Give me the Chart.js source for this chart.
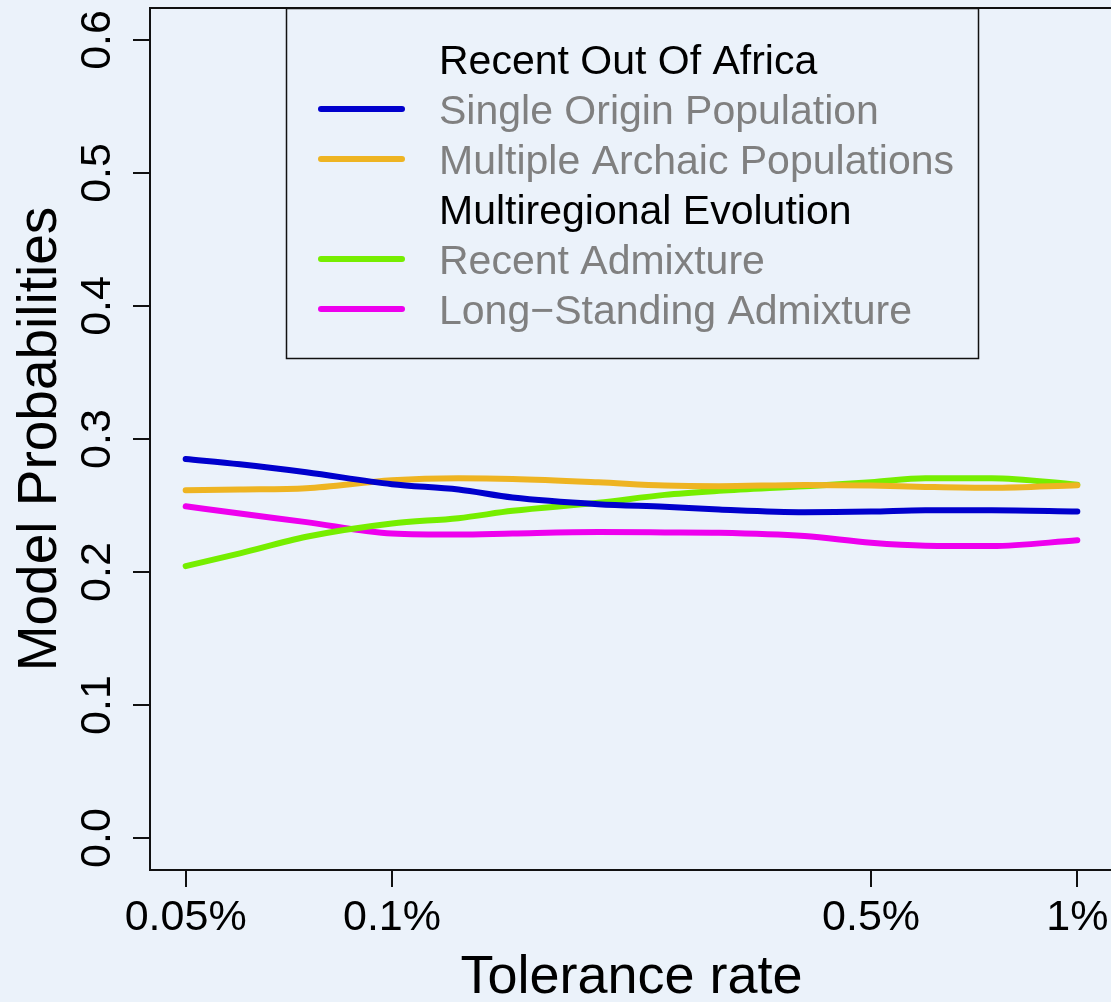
<!DOCTYPE html>
<html>
<head>
<meta charset="utf-8">
<title>Model Probabilities by Tolerance rate</title>
<script src="https://cdn.jsdelivr.net/npm/chart.js@4.4.1/dist/chart.umd.min.js"></script>
<style>
  html, body { margin: 0; padding: 0; background: #EBF2FA; overflow: hidden; width: 1111px; height: 1002px; }
  canvas { display: block; }
</style>
</head>
<body>
<canvas id="chart" width="1120" height="1002"></canvas>
<script>
// Tolerance rate (%) at which the model probabilities were estimated
const tolerance = [0.05, 0.06, 0.075, 0.1, 0.125, 0.15, 0.2, 0.25, 0.3, 0.4, 0.5, 0.6, 0.75, 1];

// Posterior model probabilities per scenario
const singleOrigin      = [0.285, 0.281, 0.275, 0.266, 0.262, 0.256, 0.251, 0.249, 0.247, 0.245, 0.2455, 0.2465, 0.2465, 0.2455];
const multipleArchaic   = [0.2615, 0.262, 0.263, 0.269, 0.2705, 0.270, 0.2675, 0.265, 0.2645, 0.2655, 0.265, 0.264, 0.2633, 0.2652];
const recentAdmixture   = [0.2044, 0.214, 0.2265, 0.2365, 0.2405, 0.246, 0.252, 0.258, 0.261, 0.2645, 0.2675, 0.2705, 0.2705, 0.2657];
const longStanding      = [0.2494, 0.244, 0.2375, 0.229, 0.2282, 0.229, 0.230, 0.2298, 0.2295, 0.227, 0.222, 0.2198, 0.2195, 0.2239];

const seriesNames  = ['Single Origin Population', 'Multiple Archaic Populations', 'Recent Admixture', 'Long\u2212Standing Admixture'];
const seriesColors = ['#0000CD', '#EEB422', '#76EE00', '#EE00EE'];
const groupNames   = ['Recent Out Of Africa', 'Multiregional Evolution'];

// Axis ticks
const xTicks      = [0.05, 0.1, 0.5, 1];
const xTickLabels = ['0.05%', '0.1%', '0.5%', '1%'];
const yTicks      = [0, 0.1, 0.2, 0.3, 0.4, 0.5, 0.6];
const yTickLabels = ['0.0', '0.1', '0.2', '0.3', '0.4', '0.5', '0.6'];

const FONT = '"Liberation Sans", Arial, Helvetica, sans-serif';

// 4% padding around the data range on both axes
const logMin = Math.log10(xTicks[0]), logMax = Math.log10(xTicks[xTicks.length - 1]);
const logPad = 0.04 * (logMax - logMin);
const yPad = 0.04 * (yTicks[yTicks.length - 1] - yTicks[0]);

const seriesValues = [singleOrigin, multipleArchaic, recentAdmixture, longStanding];
const datasets = seriesValues.map((vals, i) => ({
  label: seriesNames[i],
  data: tolerance.map((t, j) => ({ x: t, y: vals[j] })),
  borderColor: seriesColors[i],
  backgroundColor: seriesColors[i],
  borderWidth: 6,
  borderCapStyle: 'round',
  borderJoinStyle: 'round',
  pointRadius: 0,
  cubicInterpolationMode: 'monotone',
  fill: false
}));

// Frame, rotated y tick labels and the grouped legend
const decorations = {
  id: 'decorations',
  afterDraw(chart) {
    const { ctx, chartArea: a, scales: { y } } = chart;
    ctx.save();

    ctx.strokeStyle = '#111';
    ctx.lineWidth = 2;
    ctx.strokeRect(a.left, a.top, a.right - a.left, a.bottom - a.top);

    ctx.fillStyle = '#000';
    ctx.font = '43px ' + FONT;
    ctx.textAlign = 'center';
    ctx.textBaseline = 'alphabetic';
    yTicks.forEach((v, i) => {
      ctx.save();
      ctx.translate(a.left - 40, y.getPixelForValue(v));
      ctx.rotate(-Math.PI / 2);
      ctx.fillText(yTickLabels[i], 0, 0);
      ctx.restore();
    });

    // legend box
    const bx = a.left + 136, by = a.top, bw = 692, bh = 350;
    ctx.fillStyle = '#EBF2FA';
    ctx.fillRect(bx, by, bw, bh);
    ctx.lineWidth = 1.5;
    ctx.strokeStyle = '#111';
    ctx.strokeRect(bx + 0.5, by + 0.5, bw, bh);

    const rows = [
      { text: groupNames[0], header: true },
      { text: seriesNames[0], color: seriesColors[0] },
      { text: seriesNames[1], color: seriesColors[1] },
      { text: groupNames[1], header: true },
      { text: seriesNames[2], color: seriesColors[2] },
      { text: seriesNames[3], color: seriesColors[3] }
    ];
    ctx.font = '41px ' + FONT;
    ctx.textAlign = 'left';
    rows.forEach((r, i) => {
      const base = by + 66 + i * 50;
      if (!r.header) {
        ctx.strokeStyle = r.color;
        ctx.lineWidth = 6;
        ctx.lineCap = 'round';
        ctx.beginPath();
        ctx.moveTo(bx + 35, base - 15);
        ctx.lineTo(bx + 116, base - 15);
        ctx.stroke();
      }
      ctx.fillStyle = r.header ? '#000' : '#808080';
      ctx.fillText(r.text, bx + 153, base);
    });
    ctx.restore();
  }
};

new Chart(document.getElementById('chart'), {
  type: 'line',
  data: { datasets },
  plugins: [decorations],
  options: {
    responsive: false,
    animation: false,
    devicePixelRatio: 1,
    layout: { padding: { top: 8, right: 7, left: 0, bottom: 0 } },
    plugins: { legend: { display: false }, tooltip: { enabled: false } },
    scales: {
      x: {
        type: 'logarithmic',
        min: Math.pow(10, logMin - logPad),
        max: Math.pow(10, logMax + logPad),
        afterBuildTicks: s => { s.ticks = xTicks.map(v => ({ value: v })); },
        afterFit: s => { s.height = 132; },
        border: { display: false },
        grid: { drawOnChartArea: false, drawTicks: true, tickLength: 17, color: '#111', lineWidth: 2 },
        ticks: {
          autoSkip: false, maxRotation: 0, minRotation: 0, padding: 5,
          color: '#000', font: { family: FONT, size: 43 },
          callback: (v, i) => xTickLabels[i]
        },
        title: {
          display: true, text: 'Tolerance rate', color: '#000',
          font: { family: FONT, size: 54, lineHeight: 0.8 },
          padding: { top: 0, bottom: 2 }
        }
      },
      y: {
        type: 'linear',
        min: yTicks[0] - yPad,
        max: yTicks[yTicks.length - 1] + yPad,
        afterBuildTicks: s => { s.ticks = yTicks.map(v => ({ value: v })); },
        afterFit: s => { s.width = 150; },
        border: { display: false },
        grid: { drawOnChartArea: false, drawTicks: true, tickLength: 17, color: '#111', lineWidth: 2 },
        ticks: { display: false },
        title: {
          display: true, text: 'Model Probabilities', color: '#000',
          font: { family: FONT, size: 55, lineHeight: 1.2 },
          padding: { top: 8, bottom: 0 }
        }
      }
    }
  }
});
</script>
</body>
</html>
